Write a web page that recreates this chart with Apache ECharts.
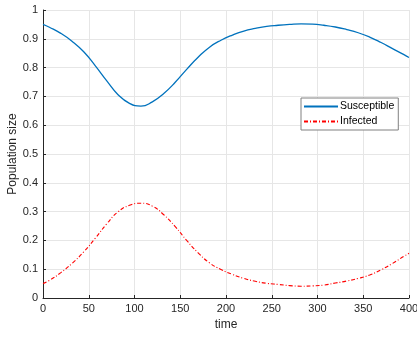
<!DOCTYPE html>
<html><head><meta charset="utf-8">
<script src="https://cdn.jsdelivr.net/npm/echarts@6/dist/echarts.min.js"></script>
<style>html,body{margin:0;padding:0;background:#fff}#c{width:417px;height:337px}</style>
</head><body><div id="c"></div>
<script>
const time = [0, 7, 19.5, 32, 44.5, 57, 69.5, 82, 94.5, 107, 119.5, 132, 144.5, 157, 169.5, 182, 194.5, 207, 219.5, 232, 244.5, 257, 269.5, 282, 294.5, 307, 319.5, 332, 344.5, 357, 369.5, 382, 394.5, 400];
const susceptible = [0.950, 0.940, 0.919, 0.891, 0.855, 0.807, 0.755, 0.706, 0.676, 0.666, 0.681, 0.710, 0.749, 0.794, 0.836, 0.871, 0.895, 0.913, 0.927, 0.936, 0.943, 0.947, 0.950, 0.952, 0.951, 0.947, 0.941, 0.932, 0.921, 0.906, 0.887, 0.866, 0.845, 0.835];
const infected = [0.050, 0.061, 0.088, 0.121, 0.160, 0.207, 0.257, 0.299, 0.322, 0.329, 0.319, 0.289, 0.248, 0.200, 0.157, 0.122, 0.099, 0.082, 0.068, 0.058, 0.051, 0.047, 0.043, 0.041, 0.042, 0.045, 0.052, 0.059, 0.068, 0.080, 0.098, 0.120, 0.145, 0.155];
const seriesNames = ['Susceptible', 'Infected'];
const xLabel = 'time';
const yLabel = 'Population size';

const chart = echarts.init(document.getElementById('c'), null, {renderer: 'canvas'});
const font = 'Liberation Sans, Arial, sans-serif';
const axisText = {color: '#262626', fontSize: 11, fontFamily: font};
chart.setOption({
  animation: false,
  backgroundColor: '#fff',
  grid: {left: 43, right: 8, top: 10, bottom: 39, containLabel: false, outerBoundsMode: 'none'},
  legend: {
    data: seriesNames,
    orient: 'vertical',
    left: 301, top: 98,
    itemWidth: 34, itemHeight: 8, itemGap: 4,
    padding: [3, 4, 3, 2],
    borderColor: '#808080', borderWidth: 1,
    backgroundColor: '#fff',
    itemStyle: {opacity: 0},
    textStyle: {color: '#000', fontSize: 10.5, fontFamily: font, padding: [0, 0, 0, -3]}
  },
  xAxis: {
    type: 'value', min: 0, max: 400, interval: 50,
    name: xLabel, nameLocation: 'middle', nameGap: 21, nameMoveOverlap: false,
    nameTextStyle: {color: '#262626', fontSize: 12, fontFamily: font},
    axisLine: {show: true, lineStyle: {color: '#262626', width: 1}},
    axisTick: {show: true, inside: true, length: 3, lineStyle: {color: '#262626'}},
    axisLabel: Object.assign({margin: 5}, axisText),
    splitLine: {show: true, lineStyle: {color: '#e6e6e6', width: 1}}
  },
  yAxis: {
    type: 'value', min: 0, max: 1, interval: 0.1,
    name: yLabel, nameLocation: 'middle', nameGap: 24, nameRotate: 90, nameMoveOverlap: false,
    nameTextStyle: {color: '#262626', fontSize: 12, fontFamily: font},
    axisLine: {show: true, lineStyle: {color: '#262626', width: 1}},
    axisTick: {show: true, inside: true, length: 3, lineStyle: {color: '#262626'}},
    axisLabel: Object.assign({margin: 5, formatter: v => String(Math.round(v * 10) / 10)}, axisText),
    splitLine: {show: true, lineStyle: {color: '#e6e6e6', width: 1}}
  },
  series: [
    {name: seriesNames[0], type: 'line', smooth: 0.5, symbol: 'none',
     data: time.map((t, i) => [t, susceptible[i]]),
     lineStyle: {color: '#0072BD', width: 1.3}, itemStyle: {color: '#0072BD'}},
    {name: seriesNames[1], type: 'line', smooth: 0.5, symbol: 'none',
     data: time.map((t, i) => [t, infected[i]]),
     lineStyle: {color: '#FF0000', width: 1.1, type: [4, 2, 1, 2]}, itemStyle: {color: '#FF0000'}}
  ]
});
</script></body></html>
